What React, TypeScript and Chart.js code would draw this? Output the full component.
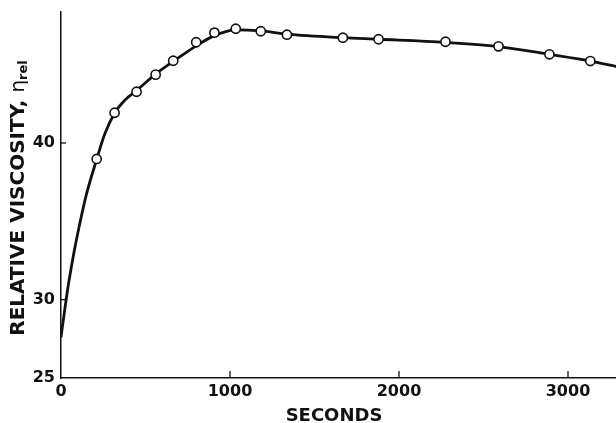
import React, { useEffect, useRef } from 'react';
import { Chart, registerables } from 'chart.js';

Chart.register(...registerables);

const xTicks = [0, 1000, 2000, 3000];
const yTicks = [25, 30, 40];
const xMin = 0;
const xMax = 3284;
const yMin = 25;
const yMax = 48.36;

const pointSeconds = [211, 317, 447, 560, 664, 800, 908, 1034, 1182, 1337, 1668, 1879, 2275, 2589, 2890, 3132];
const pointViscosity = [38.98, 41.93, 43.27, 44.36, 45.25, 46.43, 47.04, 47.29, 47.13, 46.91, 46.72, 46.62, 46.46, 46.17, 45.66, 45.23];

const curveSeconds = [0, 20, 40, 60, 80, 110, 150, 211, 260, 317, 380, 447, 560, 664, 800, 908, 1034, 1182, 1337, 1668, 1879, 2275, 2589, 2890, 3132, 3320];
const curveViscosity = [27.6, 29.2, 30.7, 32.0, 33.2, 34.8, 36.7, 38.95, 40.6, 41.9, 42.75, 43.35, 44.4, 45.2, 46.2, 46.85, 47.22, 47.15, 46.95, 46.72, 46.62, 46.42, 46.15, 45.66, 45.23, 44.8];

const xTitle = 'SECONDS';
const yTitleMain = 'RELATIVE VISCOSITY, ';
const yTitleSymbol = 'η';
const yTitleSub = 'rel';

const FONT = '"DejaVu Sans", "Liberation Sans", Arial, sans-serif';

const decorPlugin = {
  id: 'decor',
  afterDraw(chart: any) {
    const ctx = chart.ctx as CanvasRenderingContext2D;
    const xs = chart.scales.x;
    const ys = chart.scales.y;
    const area = chart.chartArea;
    ctx.save();
    ctx.strokeStyle = '#111';
    ctx.lineWidth = 1.3;
    xTicks.forEach((v) => {
      if (v === xMin) return;
      const px = xs.getPixelForValue(v);
      ctx.beginPath();
      ctx.moveTo(px, area.bottom);
      ctx.lineTo(px, area.bottom - 7);
      ctx.stroke();
    });
    yTicks.forEach((v) => {
      if (v === yMin) return;
      const py = ys.getPixelForValue(v);
      ctx.beginPath();
      ctx.moveTo(area.left, py);
      ctx.lineTo(area.left + 5, py);
      ctx.stroke();
    });
    ctx.fillStyle = '#111';
    ctx.font = `bold 18px ${FONT}`;
    ctx.textAlign = 'center';
    ctx.textBaseline = 'alphabetic';
    ctx.fillText(xTitle, 334, 421);
    ctx.translate(24, 198);
    ctx.rotate(-Math.PI / 2);
    ctx.textAlign = 'left';
    const mainFont = `bold 20px ${FONT}`;
    const symFont = `20px ${FONT}`;
    const subFont = `bold 13px ${FONT}`;
    ctx.font = mainFont;
    const wMain = ctx.measureText(yTitleMain).width;
    ctx.font = symFont;
    const wSym = ctx.measureText(yTitleSymbol).width;
    ctx.font = subFont;
    const wSub = ctx.measureText(yTitleSub).width;
    const total = wMain + wSym + wSub;
    let x0 = -total / 2;
    ctx.font = mainFont;
    ctx.fillText(yTitleMain, x0, 0);
    x0 += wMain;
    ctx.font = symFont;
    ctx.fillText(yTitleSymbol, x0, 0);
    x0 += wSym;
    ctx.font = subFont;
    ctx.fillText(yTitleSub, x0, 3);
    ctx.restore();
  },
};

export default function App() {
  const canvasRef = useRef<HTMLCanvasElement | null>(null);

  useEffect(() => {
    if (!canvasRef.current) return;
    const chart = new Chart(canvasRef.current, {
      type: 'scatter',
      data: {
        datasets: [
          {
            type: 'scatter',
            label: 'measured',
            data: pointSeconds.map((x, i) => ({ x, y: pointViscosity[i] })),
            pointRadius: 4.6,
            pointBorderWidth: 1.6,
            pointBackgroundColor: '#ffffff',
            pointBorderColor: '#111',
            showLine: false,
            order: 0,
          },
          {
            type: 'line',
            label: 'curve',
            data: curveSeconds.map((x, i) => ({ x, y: curveViscosity[i] })),
            borderColor: '#111',
            borderWidth: 2.8,
            pointRadius: 0,
            fill: false,
            cubicInterpolationMode: 'monotone',
            order: 1,
          } as any,
        ],
      },
      options: {
        animation: false,
        responsive: false,
        maintainAspectRatio: false,
        layout: { autoPadding: false, padding: { top: 12, right: 0, bottom: 0, left: 0 } },
        plugins: {
          legend: { display: false },
          tooltip: { enabled: false },
          title: { display: false },
        },
        scales: {
          x: {
            type: 'linear',
            min: xMin,
            max: xMax,
            grid: { display: false, drawTicks: false },
            border: { display: true, color: '#111', width: 1.5 },
            ticks: {
              padding: 4,
              color: '#111',
              font: { family: FONT, size: 16, weight: 'bold' },
              callback: (v: any) => String(v),
            },
            afterBuildTicks: (scale: any) => {
              scale.ticks = xTicks.map((v) => ({ value: v }));
            },
            afterFit: (scale: any) => {
              scale.height = 45;
              scale.paddingLeft = 0;
              scale.paddingRight = 0;
            },
          },
          y: {
            type: 'linear',
            min: yMin,
            max: yMax,
            grid: { display: false, drawTicks: false },
            border: { display: true, color: '#111', width: 1.5 },
            ticks: {
              padding: 6,
              color: '#111',
              font: { family: FONT, size: 16, weight: 'bold' },
              callback: (v: any) => String(v),
            },
            afterBuildTicks: (scale: any) => {
              scale.ticks = yTicks.map((v) => ({ value: v }));
            },
            afterFit: (scale: any) => {
              scale.width = 61;
              scale.paddingTop = 0;
              scale.paddingBottom = 0;
            },
          },
        },
      },
      plugins: [decorPlugin],
    });
    return () => chart.destroy();
  }, []);

  return (
    <div style={{ position: 'fixed', left: 0, top: 0, width: 616, height: 423, background: '#fff' }}>
      <canvas ref={canvasRef} width={616} height={423} style={{ width: 616, height: 423, display: 'block' }} />
    </div>
  );
}
